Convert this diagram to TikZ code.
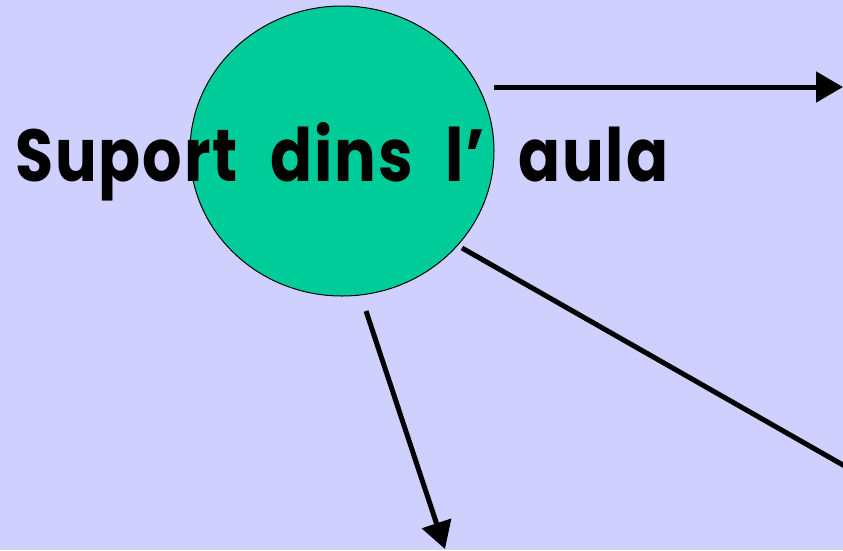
\documentclass[tikz,border=0pt]{standalone}
\usepackage{fontspec}
\setmainfont{Poppins}[LetterSpace=3,WordSpace=2.2]
\usetikzlibrary{arrows.meta,shapes.geometric}
\definecolor{bg}{RGB}{208,208,255}
\definecolor{teal}{RGB}{0,204,153}
\begin{document}
\begin{tikzpicture}[x=1pt,y=-1pt,
  conn/.style={line width=5pt,draw=black},
  arr/.style={conn,-{Triangle[length=27pt,width=30pt]}}]
\useasboundingbox (0,0) rectangle (843,550);
\fill[bg] (0,0) rectangle (843,550);
\node[ellipse,draw=black,line width=1pt,fill=teal,minimum width=304pt,minimum height=290pt,inner sep=0pt] (c) at (342,151) {};
\node[anchor=base west,inner sep=0pt,font=\bfseries\fontsize{66}{70}\selectfont] (t) at (15,181) {\resizebox{653pt}{59pt}{Suport dins l’ aula}};
\coordinate (s1) at (494,87);
\coordinate (e1) at (843,87);
\coordinate (s2) at (462,248);
\coordinate (e2) at (850,469);
\coordinate (s3) at (366,311);
\coordinate (e3) at (445,549);
\draw[arr] (s1) -- (e1);
\draw[conn] (s2) -- (e2);
\draw[arr] (s3) -- (e3);
\end{tikzpicture}
\end{document}
